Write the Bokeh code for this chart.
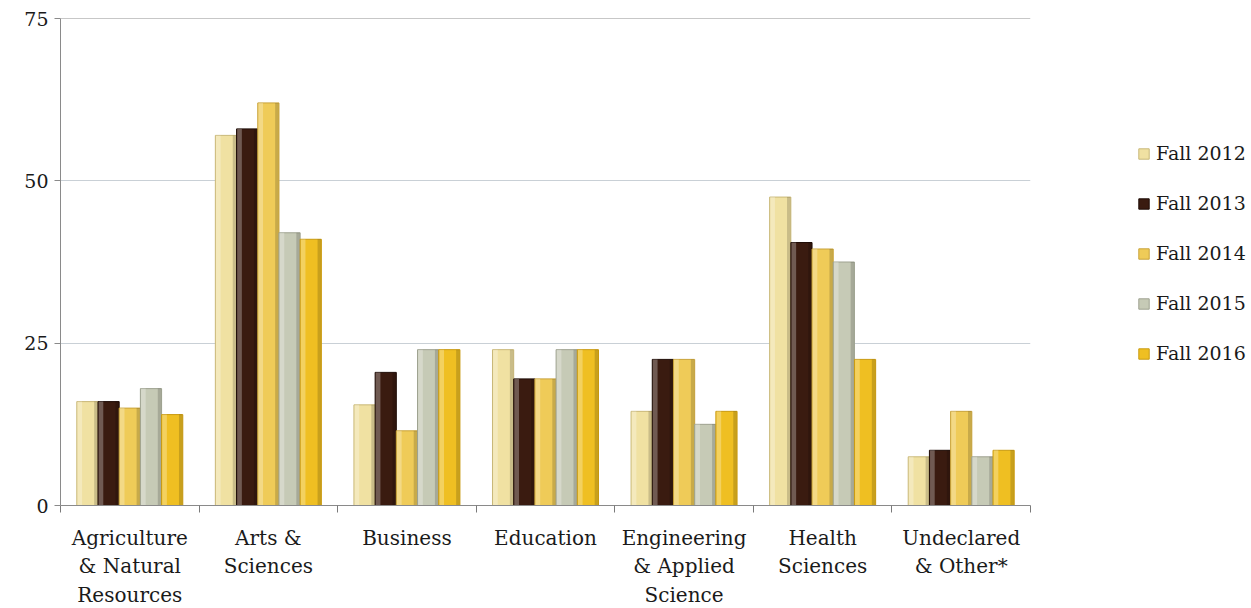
from bokeh.plotting import figure
from bokeh.models import (ColumnDataSource, FixedTicker, Range1d, Span, Legend,
                          LegendItem)
from bokeh.transform import dodge
from bokeh.embed import file_html
from bokeh.resources import INLINE

# ---- data ----
categories = ["Agriculture & Natural Resources", "Arts & Sciences", "Business",
              "Education", "Engineering & Applied Science", "Health Sciences",
              "Undeclared & Other*"]
tick_labels = ["Agriculture\n& Natural\nResources", "Arts &\nSciences", "Business",
               "Education", "Engineering\n& Applied\nScience", "Health\nSciences",
               "Undeclared\n& Other*"]
series_names = ["Fall 2012", "Fall 2013", "Fall 2014", "Fall 2015", "Fall 2016"]
fall_2012 = [16, 57, 15.5, 24, 14.5, 47.5, 7.5]
fall_2013 = [16, 58, 20.5, 19.5, 22.5, 40.5, 8.5]
fall_2014 = [15, 62, 11.5, 19.5, 22.5, 39.5, 14.5]
fall_2015 = [18, 42, 24, 24, 12.5, 37.5, 7.5]
fall_2016 = [14, 41, 24, 24, 14.5, 22.5, 8.5]
y_ticks = [0, 25, 50, 75]

series_values = [fall_2012, fall_2013, fall_2014, fall_2015, fall_2016]
colors = ["#F0E1A2", "#3A1B10", "#EFCB58", "#C6CAB6", "#EFBF22"]
line_colors = ["#C9B878", "#1E0C06", "#C9A33A", "#9EA290", "#C99A10"]

pos = [i + 0.5 for i in range(len(categories))]
data = {"pos": pos, "cat": categories}
for name, vals in zip(series_names, series_values):
    data[name] = vals
source = ColumnDataSource(data)

FONT = "DejaVu Serif"

p = figure(frame_width=970, frame_height=487, output_backend="svg", toolbar_location=None,
           x_range=Range1d(0, len(categories)), y_range=Range1d(0, 75),
           min_border_left=60, min_border_top=18, min_border_bottom=95,
           min_border_right=0)
p.background_fill_color = "white"
p.border_fill_color = "white"
p.outline_line_color = None

bw = 0.153
shift = 0.0
renderers = []
for k, name in enumerate(series_names):
    off = (k - 2) * bw + shift
    r = p.vbar(x=dodge("pos", off, range=p.x_range), top=name,
               width=bw, bottom=0, source=source,
               fill_color=colors[k], line_color=line_colors[k], line_width=1)
    renderers.append(r)
    # bevel-like shading: light left edge, dark right edge
    p.vbar(x=dodge("pos", off - bw * 0.36, range=p.x_range), top=name,
           width=bw * 0.22, bottom=0, source=source,
           fill_color="white", fill_alpha=0.28, line_color=None)
    p.vbar(x=dodge("pos", off + bw * 0.4, range=p.x_range), top=name,
           width=bw * 0.16, bottom=0, source=source,
           fill_color="black", fill_alpha=0.16, line_color=None)

# axes
p.yaxis.ticker = FixedTicker(ticks=y_ticks)
p.yaxis.minor_tick_line_color = None
p.yaxis.major_tick_out = 6
p.yaxis.major_tick_in = 0
p.yaxis.axis_line_color = "#8a8a8a"
p.yaxis.major_tick_line_color = "#8a8a8a"
p.yaxis.major_label_text_font = FONT
p.yaxis.major_label_text_font_size = "19px"
p.yaxis.major_label_text_color = "#1a1a1a"
p.yaxis.major_label_standoff = 6

p.xaxis.ticker = FixedTicker(ticks=pos, minor_ticks=list(range(len(categories) + 1)))
p.xaxis.major_label_overrides = {c: lab for c, lab in zip(pos, tick_labels)}
p.xaxis.major_tick_out = 0
p.xaxis.major_tick_in = 0
p.xaxis.minor_tick_out = 7
p.xaxis.minor_tick_in = 0
p.xaxis.minor_tick_line_color = "#7a7a7a"
p.xaxis.axis_line_color = "#8a8a8a"
p.xaxis.major_label_text_font = FONT
p.xaxis.major_label_text_font_size = "20px"
p.xaxis.major_label_text_color = "#1a1a1a"
p.xaxis.major_label_standoff = 13

p.xgrid.grid_line_color = None
p.ygrid.ticker = FixedTicker(ticks=[25, 50])
p.ygrid.grid_line_color = "#c9d0d6"
p.ygrid.grid_line_width = 1

p.add_layout(Span(location=75, dimension="width", line_color="#8f8f8f", line_width=1.2))

legend = Legend(items=[LegendItem(label=n, renderers=[r]) for n, r in zip(series_names, renderers)],
                location=(107, 140), orientation="vertical")
legend.border_line_color = None
legend.background_fill_alpha = 0
legend.padding = 0
legend.margin = 0
legend.spacing = 26
legend.label_height = 24
legend.glyph_height = 13
legend.glyph_width = 13
legend.label_standoff = 6
legend.label_text_font = FONT
legend.label_text_font_size = "19px"
legend.label_text_color = "#1a1a1a"
p.add_layout(legend, "right")

open("out.html", "w").write(file_html(p, INLINE))
